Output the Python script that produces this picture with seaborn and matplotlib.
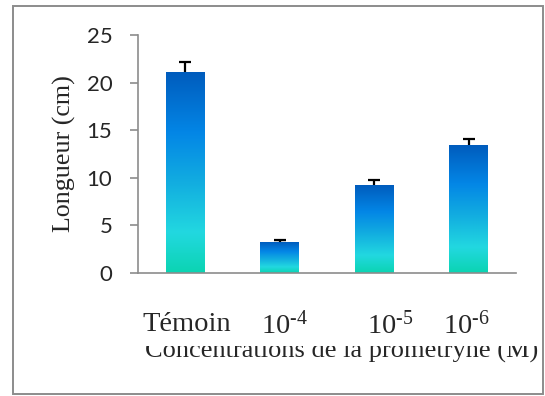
import numpy as np
import matplotlib
matplotlib.use('Agg')
import matplotlib.pyplot as plt
import seaborn as sns
import pandas as pd
from matplotlib.colors import LinearSegmentedColormap
from matplotlib.patches import Rectangle
from matplotlib.transforms import Bbox, ScaledTranslation

# Data
treatments = ['Témoin', '10$^{\\text{-4}}$', '10$^{\\text{-5}}$', '10$^{\\text{-6}}$']
longueur = [21.1, 3.25, 9.25, 13.45]
erreur = [1.05, 0.15, 0.45, 0.6]
yticks = [0, 5, 10, 15, 20, 25]

sns.set_style('white')
plt.rcParams['mathtext.fontset'] = 'custom'
plt.rcParams['mathtext.rm'] = 'Liberation Serif'
plt.rcParams['mathtext.it'] = 'Liberation Serif:italic'

df = pd.DataFrame({'traitement': treatments, 'longueur': longueur})

fig = plt.figure(figsize=(5.45, 3.96), dpi=100)
ax = fig.add_axes([0.2532, 0.3114, 0.6936, 0.6002])

sns.barplot(data=df, x='traitement', y='longueur', width=0.41,
            errorbar=None, color='#0a90e0', ax=ax)

# gradient fill on each bar (teal at bottom -> dark blue at top)
grad = LinearSegmentedColormap.from_list('bar', [
    (0.0, '#0bd4b2'), (0.2, '#22d8e0'), (0.45, '#12ade0'),
    (0.7, '#0386e6'), (1.0, '#005cbd')])
img = np.linspace(0, 1, 256).reshape(-1, 1)
for p in ax.patches:
    x0, y0 = p.get_x(), p.get_y()
    w, h = p.get_width(), p.get_height()
    im = ax.imshow(img, cmap=grad, origin='lower', aspect='auto',
                   extent=[x0, x0 + w, y0, y0 + h], zorder=2)
    im.set_clip_path(p)
    p.set_facecolor('none')
    p.set_edgecolor('none')

# error bars drawn behind the bars so only the upper half shows
xpos = np.arange(len(longueur))
ax.errorbar(xpos, longueur, yerr=erreur, fmt='none',
            ecolor='black', elinewidth=1.6, capsize=4.3, capthick=1.6, zorder=1.5)

ax.set_xlim(-0.5, len(longueur) - 0.5)
ax.set_ylim(0, 25)
ax.set_yticks(yticks)
ax.set_yticklabels([str(t) for t in yticks], family='Lato', fontsize=16)

for s in ['top', 'right']:
    ax.spines[s].set_visible(False)
for s in ['left', 'bottom']:
    ax.spines[s].set_color('#8c8c8c')
    ax.spines[s].set_linewidth(1.2)
    ax.spines[s].set_zorder(3)
ax.tick_params(axis='y', length=5.5, width=1.2, color='#8c8c8c', pad=13, left=True)
ax.tick_params(axis='x', length=0, pad=28)
ax.set_xlabel('')
ax.set_xticks(xpos)
ax.set_xticklabels(treatments, family='Liberation Serif', fontsize=20.5)
label_shift = [2, 5, 16, -2]
for lab, dx in zip(ax.get_xticklabels(), label_shift):
    lab.set_transform(lab.get_transform() + ScaledTranslation(dx / 100, 0, fig.dpi_scale_trans))

ax.set_ylabel('Longueur (cm)', family='Liberation Serif', fontsize=18.7)
ax.yaxis.set_label_coords(-0.164, 0.5)

# axis title, partly hidden as in the original
t = fig.text(145 / 545, 1 - 358 / 396, 'Concentrations de la prométryne (M)',
             family='Liberation Serif', fontsize=19, ha='left', va='baseline')
t.set_clip_box(Bbox([[0, 0], [540, 396 - 346]]))
t.set_clip_on(True)

# outer frame
fig.patches.append(Rectangle((13 / 545, 2 / 396), 529.5 / 545, 388 / 396,
                             transform=fig.transFigure, fill=False,
                             edgecolor='#8c8c8c', linewidth=1.4))

fig.savefig('out.png', dpi=100)
